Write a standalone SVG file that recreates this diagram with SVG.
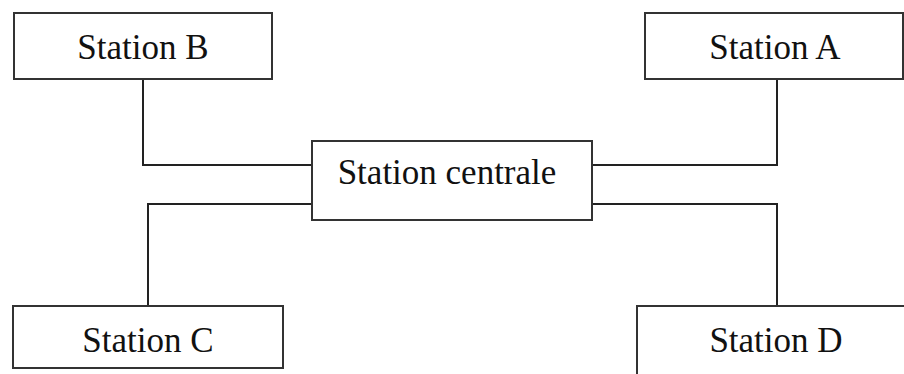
<svg xmlns="http://www.w3.org/2000/svg" width="904" height="374" viewBox="0 0 904 374">
<style>
.box{fill:#fff;stroke:#333;stroke-width:2}
.lbl{font-family:"Liberation Serif","Times New Roman",serif;font-size:35px;fill:#111;text-anchor:middle}
.wire{fill:none;stroke:#222;stroke-width:2}
</style>
<rect width="904" height="374" fill="#fff"/>
<g id="connectors">
<polyline class="wire" points="143,79 143,165 313,165"/>
<polyline class="wire" points="777,79 777,165 592,165"/>
<polyline class="wire" points="148,306 148,204 313,204"/>
<polyline class="wire" points="777,306 777,204 592,204"/>
</g>
<g id="stationB"><rect class="box" x="14" y="13" width="258" height="66"/><text class="lbl" x="143" y="59">Station B</text></g>
<g id="stationA"><rect class="box" x="645" y="13" width="258" height="66"/><text class="lbl" x="775" y="59">Station A</text></g>
<g id="stationCentrale"><rect class="box" x="312" y="141" width="280" height="79"/><text class="lbl" x="447" y="184">Station centrale</text></g>
<g id="stationC"><rect class="box" x="13" y="306" width="270" height="62"/><text class="lbl" x="148" y="352">Station C</text></g>
<g id="stationD"><rect class="box" x="637" y="306" width="290" height="90"/><text class="lbl" x="776" y="352">Station D</text></g>
</svg>
